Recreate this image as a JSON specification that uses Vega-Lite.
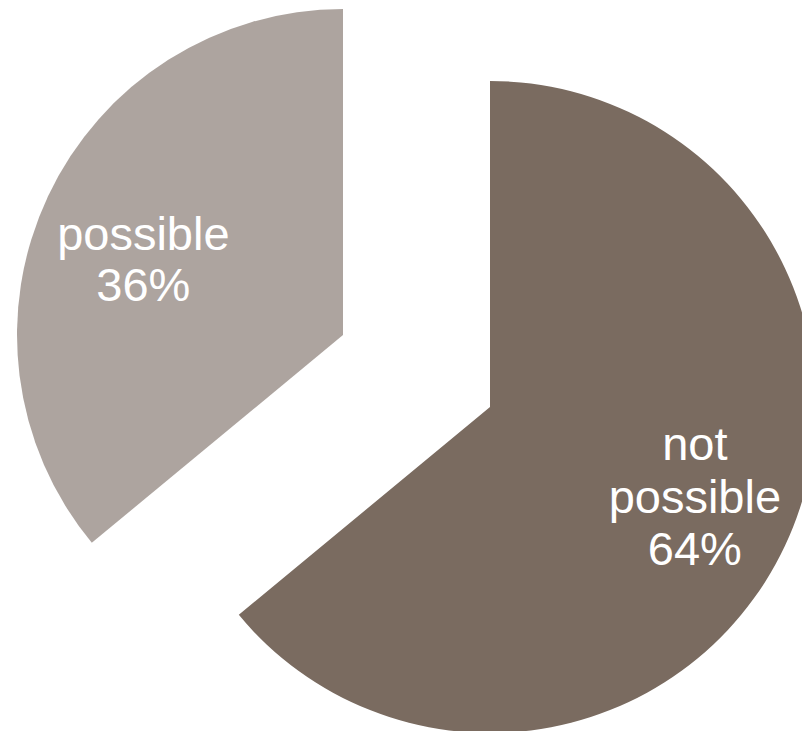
{
  "$schema": "https://vega.github.io/schema/vega-lite/v6.json",
  "width": 802,
  "height": 731,
  "autosize": "none",
  "padding": 0,
  "background": "white",
  "view": {"stroke": null},
  "data": {
    "values": [
      {"category": "not possible", "value": 64, "label": "not\npossible\n64%", "order": 1},
      {"category": "possible", "value": 36, "label": "possible\n36%", "order": 2}
    ]
  },
  "transform": [
    {"stack": "value", "groupby": [], "sort": [{"field": "order", "order": "ascending"}], "as": ["v0", "v1"]},
    {"calculate": "(datum.v0 + datum.v1) / 2", "as": "vmid"}
  ],
  "layer": [
    {
      "transform": [{"filter": "datum.category === 'not possible'"}],
      "layer": [
        {
          "mark": {"type": "arc", "outerRadius": 326, "xOffset": 89, "yOffset": 41.5, "fill": "#7A6B60"},
          "encoding": {
            "theta": {"field": "v0", "type": "quantitative", "scale": {"domain": [0, 100]}},
            "theta2": {"field": "v1"}
          }
        },
        {
          "mark": {"type": "text", "radius": 222, "xOffset": 93, "yOffset": -14, "fill": "white", "font": "Liberation Sans", "fontSize": 47, "lineHeight": 52.5, "lineBreak": "\n", "align": "center", "baseline": "middle"},
          "encoding": {
            "theta": {"field": "vmid", "type": "quantitative", "scale": {"domain": [0, 100]}},
            "text": {"field": "label", "type": "nominal"}
          }
        }
      ]
    },
    {
      "transform": [{"filter": "datum.category === 'possible'"}],
      "layer": [
        {
          "mark": {"type": "arc", "outerRadius": 326, "xOffset": -58, "yOffset": -30.5, "fill": "#ADA49F"},
          "encoding": {
            "theta": {"field": "v0", "type": "quantitative", "scale": {"domain": [0, 100]}},
            "theta2": {"field": "v1"}
          }
        },
        {
          "mark": {"type": "text", "radius": 214, "xOffset": -64, "yOffset": -38.5, "fill": "white", "font": "Liberation Sans", "fontSize": 47, "lineHeight": 51, "lineBreak": "\n", "align": "center", "baseline": "middle"},
          "encoding": {
            "theta": {"field": "vmid", "type": "quantitative", "scale": {"domain": [0, 100]}},
            "text": {"field": "label", "type": "nominal"}
          }
        }
      ]
    }
  ]
}
